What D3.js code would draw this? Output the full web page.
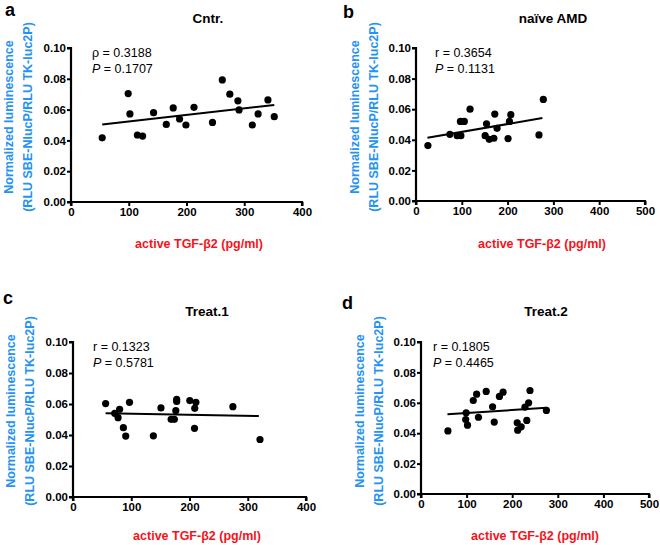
<!DOCTYPE html>
<html><head><meta charset="utf-8">
<script src="https://cdn.jsdelivr.net/npm/d3@7"></script>
<style>body{margin:0;background:#fff}svg{display:block}text{font-family:"Liberation Sans",Arial,Helvetica,sans-serif}</style>
</head><body>
<svg id="c" width="660" height="545"></svg>
<script>
// ---- data ----
const panelLetters = ["a","b","c","d"];
const panelTitles = ["Cntr.","naïve AMD","Treat.1","Treat.2"];
const statLabels = ["ρ","r","r","r"];
const statValues = ["0.3188","0.3654","0.1323","0.1805"];
const pValues = ["0.1707","0.1131","0.5781","0.4465"];
const xMaxes = [400,500,400,500];
const yTicks = [0,0.02,0.04,0.06,0.08,0.10];
const xTicksA = [0,100,200,300,400];
const xTicksB = [0,100,200,300,400,500];

const aX = [54,99,102,115,124,143,165,177,188,199,213,245,262,275,289,291,314,324,341,352];
const aY = [0.0417,0.0704,0.0572,0.0435,0.0428,0.058,0.0504,0.0611,0.0539,0.050,0.0615,0.0517,0.0793,0.070,0.0657,0.0598,0.050,0.0572,0.0663,0.0554];
const bX = [26,74,90,98,97,105.5,118,154,151,160,170,172,177,204,207,201,268.5,278];
const bY = [0.0362,0.0436,0.0427,0.0427,0.052,0.052,0.060,0.0505,0.0427,0.0403,0.041,0.0568,0.0475,0.052,0.0564,0.0408,0.0432,0.0664];
const cX = [56,71.6,77.4,80,86.5,90.5,97,138,151,168.5,174,176.5,178,178,200.5,209,211,208.6,274.5,321];
const cY = [0.0603,0.054,0.0512,0.0566,0.0447,0.0393,0.0611,0.0395,0.0575,0.0501,0.0501,0.0557,0.063,0.0616,0.0622,0.0572,0.0611,0.0443,0.0583,0.0371];
const dX = [59,99,98,102,114.6,122,126,143,157,160.6,172,180,211,212,219.7,228,232,236,239,275];
const dY = [0.0415,0.0534,0.049,0.0453,0.0615,0.0657,0.0505,0.0675,0.0574,0.0473,0.0642,0.067,0.0468,0.042,0.0442,0.0571,0.0484,0.060,0.0681,0.055];
// fitted lines: [x1, y1, x2, y2]
const fitA = [54,0.0503,352,0.0630];
const fitB = [25,0.0413,276,0.0542];
const fitC = [56,0.0540,319,0.0522];
const fitD = [58,0.0525,275,0.0567];

// ---- layout ----
const layout = [
  {x0:71, x1:302, y0:202, y1:48, xs:xTicksA, xd:aX, yd:aY, fit:fitA, lx:5, ly:16, tx:208, ty:23, sx:92, sy:52, ylx:9, yly:117, xlx:199, xly:248},
  {x0:416, x1:645, y0:201, y1:48, xs:xTicksB, xd:bX, yd:bY, fit:fitB, lx:343, ly:18, tx:553, ty:23, sx:435, sy:52, ylx:355, yly:117, xlx:542, xly:248},
  {x0:73, x1:306, y0:497, y1:342, xs:xTicksA, xd:cX, yd:cY, fit:fitC, lx:3, ly:304, tx:207, ty:316, sx:93, sy:346, ylx:11, yly:411, xlx:197, xly:540},
  {x0:421, x1:649, y0:494, y1:342, xs:xTicksB, xd:dX, yd:dY, fit:fitD, lx:342, ly:309, tx:546, ty:316, sx:433, sy:346, ylx:360, yly:411, xlx:535, xly:540}
];

const svg = d3.select("#c");
const blue = "#2592f5", red = "#f5131b";

layout.forEach((L, i) => {
  const x = d3.scaleLinear().domain([0, xMaxes[i]]).range([L.x0, L.x1]);
  const y = d3.scaleLinear().domain([0, 0.10]).range([L.y0, L.y1]);
  const g = svg.append("g");

  // axes
  const ya = g.append("g").attr("transform", `translate(${L.x0},0)`)
    .call(d3.axisLeft(y).tickValues(yTicks).tickFormat(d3.format(".2f")).tickSize(4).tickPadding(1));
  const xa = g.append("g").attr("transform", `translate(0,${L.y0})`)
    .call(d3.axisBottom(x).tickValues(L.xs).tickFormat(d3.format("d")).tickSize(4).tickPadding(2));
  [ya, xa].forEach(a => {
    a.select(".domain").attr("stroke", "#000").attr("stroke-width", 2.2);
    a.selectAll(".tick line").attr("stroke", "#000").attr("stroke-width", 2);
    a.selectAll(".tick text").attr("fill", "#000").style("font-size", "11.5px").style("font-weight", "bold");
  });
  ya.select(".domain").attr("d", `M-4,${L.y0}H0V${L.y1}H-4`);
  xa.select(".domain").attr("d", `M${L.x0},4V0H${L.x1}V4`);

  // fit line
  g.append("line")
    .attr("x1", x(L.fit[0])).attr("y1", y(L.fit[1]))
    .attr("x2", x(L.fit[2])).attr("y2", y(L.fit[3]))
    .attr("stroke", "#000").attr("stroke-width", 2);

  // points
  g.selectAll("circle.p").data(d3.zip(L.xd, L.yd)).join("circle")
    .attr("class", "p")
    .attr("cx", d => x(d[0])).attr("cy", d => y(d[1])).attr("r", 3.6).attr("fill", "#000");

  // stats
  const st = g.append("text").attr("x", L.sx).attr("y", L.sy + 4.5).style("font-size", "12.5px").attr("fill", "#000");
  st.append("tspan").text(statLabels[i] + " = " + statValues[i]);
  const pt = g.append("text").attr("x", L.sx).attr("y", L.sy + 21).style("font-size", "12.5px").attr("fill", "#000");
  pt.append("tspan").style("font-style", "italic").text("P");
  pt.append("tspan").text(" = " + pValues[i]);

  // panel letter
  g.append("text").attr("x", L.lx).attr("y", L.ly).text(panelLetters[i])
    .style("font-size", "18px").style("font-weight", "bold").attr("fill", "#000");
  // title
  g.append("text").attr("x", L.tx).attr("y", L.ty).attr("text-anchor", "middle").text(panelTitles[i])
    .style("font-size", "13.5px").style("font-weight", "bold").attr("fill", "#000");

  // y label
  const yl = g.append("text").attr("transform", `translate(${L.ylx},${L.yly}) rotate(-90)`)
    .attr("text-anchor", "middle").style("font-size", "12.5px").style("font-weight", "bold").attr("fill", blue);
  yl.append("tspan").attr("x", 0).attr("dy", "0.35em").text("Normalized luminescence");
  yl.append("tspan").attr("x", 0).attr("dy", "1.45em").text("(RLU SBE-NlucP/RLU TK-luc2P)");

  // x label
  g.append("text").attr("x", L.xlx).attr("y", L.xly).attr("text-anchor", "middle")
    .style("font-size", "12.5px").style("font-weight", "bold").attr("fill", red)
    .text("active TGF-β2 (pg/ml)");
});
</script>
</body></html>
